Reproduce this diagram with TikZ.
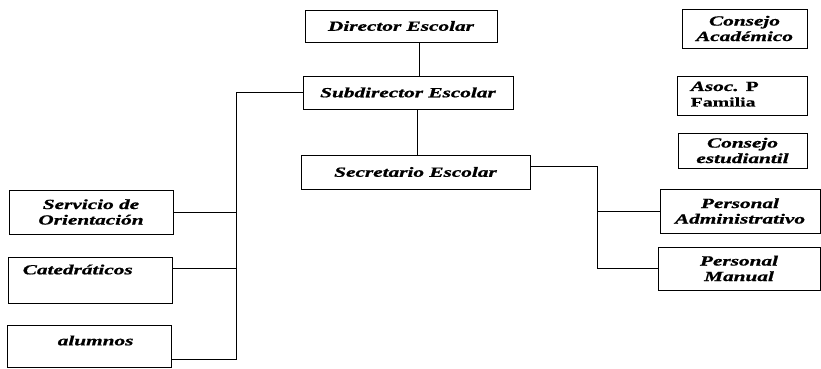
\documentclass[tikz,border=0pt]{standalone}
\usepackage{fontspec}
\setmainfont{Liberation Serif}[FakeStretch=1.52, BoldItalicFeatures={FakeBold=1}, BoldFeatures={FakeBold=0.5}]
\begin{document}
\begin{tikzpicture}[x=1pt,y=1pt,
  box/.style={draw, line width=0.9pt, inner sep=0pt},
  txt/.style={font=\fontsize{14}{15.5}\selectfont\bfseries\itshape, align=center, inner sep=0pt},
  conn/.style={line width=0.8pt}]
\useasboundingbox (0,0) rectangle (821,368);
% central column
\node[box, txt, minimum width=192, minimum height=32] (dir) at (401,342) {Director Escolar};
\node[box, txt, minimum width=210, minimum height=33] (sub) at (408,275.5) {Subdirector Escolar};
\node[box, txt, minimum width=229, minimum height=34] (sec) at (415.5,196) {Secretario Escolar};
% right column top
\node[box, txt, minimum width=125, minimum height=39] (ca) at (744.5,339.5) {Consejo\\Académico};
\node[box, minimum width=130, minimum height=39] (asoc) at (742,272.5) {};
\node[txt, align=left, anchor=north west] (asoctxt) at ([xshift=14,yshift=-6]asoc.north west)
  {Asoc. {\upshape P}\\{\upshape\fontsize{13}{14}\selectfont Familia}};
\node[box, txt, minimum width=129, minimum height=35] (ce) at (742.5,217.5) {Consejo\\estudiantil};
% left column
\node[box, txt, minimum width=164, minimum height=44] (serv) at (91,156) {Servicio de\\Orientación};
\node[box, minimum width=164, minimum height=46] (cat) at (90,88) {};
\node[txt, anchor=west] (cattxt) at ([xshift=15,yshift=-13]cat.north west) {Catedráticos};
\node[box, minimum width=164, minimum height=42] (alu) at (89,22) {};
\node[txt, anchor=west] (alutxt) at ([xshift=51,yshift=-16]alu.north west) {alumnos};
% right column bottom
\node[box, txt, minimum width=160, minimum height=44] (pa) at (740,157) {Personal\\Administrativo};
\node[box, txt, minimum width=162, minimum height=43] (pm) at (739,99.5) {Personal\\Manual};
% connectors
\coordinate (lt) at (236,9);
\coordinate (rt) at (597,99.5);
\draw[conn] ([xshift=18]dir.south) -- ([xshift=18]dir.south |- sub.north);
\draw[conn] ([xshift=9]sub.south) -- ([xshift=9]sub.south |- sec.north);
\draw[conn] (sub.west) -| (lt) -- ([yshift=-13]alu.east);
\draw[conn] (serv.east) -- (serv.east -| lt);
\draw[conn] ([yshift=12]cat.east) -- ([yshift=12]cat.east -| lt);
\draw[conn] ([yshift=6]sec.east) -| (rt) -- (pm.west);
\draw[conn] (pa.west) -- (pa.west -| rt);
\end{tikzpicture}
\end{document}
